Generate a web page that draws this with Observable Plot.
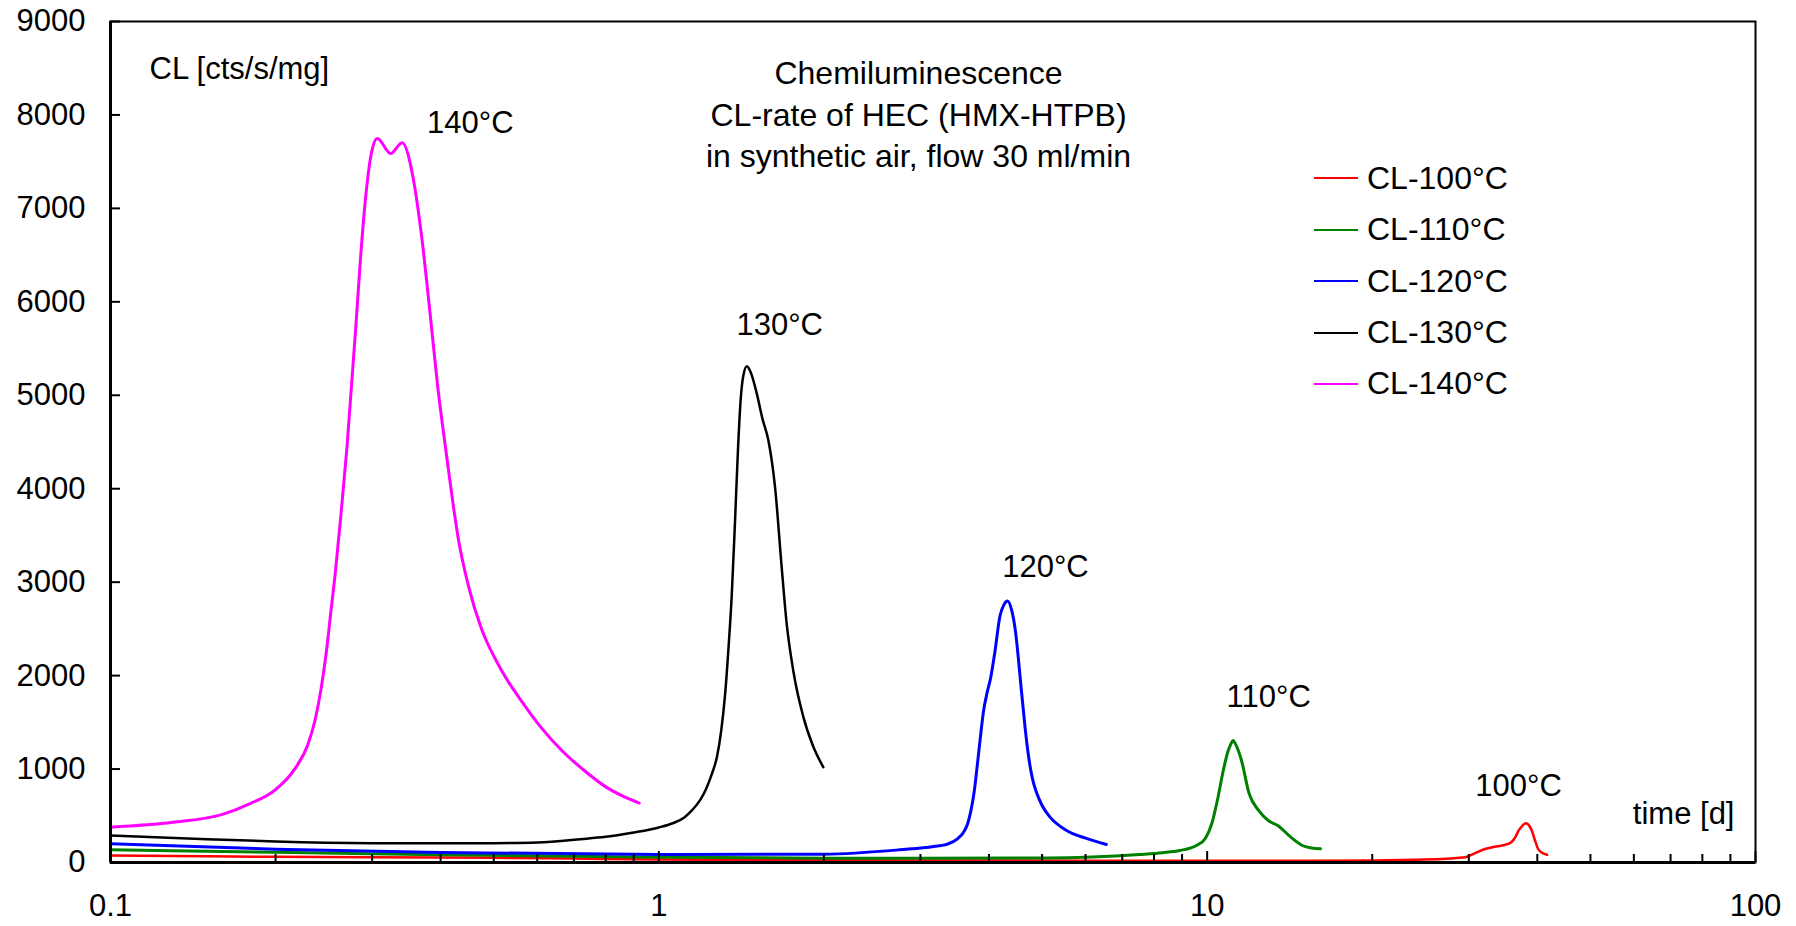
<!DOCTYPE html>
<html><head><meta charset="utf-8">
<script src="https://cdn.jsdelivr.net/npm/d3@7"></script>
<script src="https://cdn.jsdelivr.net/npm/@observablehq/plot@0.6"></script>
<style>
html,body{margin:0;padding:0;background:#fff;}
#wrap{position:relative;width:1796px;height:926px;font-family:"Liberation Sans",Arial,sans-serif;}
#legend{position:absolute;left:1314px;top:0;}
.row{position:absolute;left:0;height:40px;display:flex;align-items:center;white-space:nowrap;font-size:32px;color:#000;}
.sw{width:44px;height:2px;margin-right:9px;}
</style></head><body><div id="wrap"></div>
<script>
// ---- data ----
const series = ["CL-100°C", "CL-110°C", "CL-120°C", "CL-130°C", "CL-140°C"];
const colors = ["#ff0000", "#008000", "#0000ff", "#000000", "#ff00ff"];

const t100 = [0.1, 0.15, 0.2, 0.3, 0.5, 0.7, 1, 1.5, 2, 3.5, 6, 10, 15, 20, 24, 27.3, 28.5, 29.6, 30.6, 32.1, 33.4, 34.7, 35.9, 36.5, 37.0, 37.6, 38.1, 38.6, 39.1, 39.6, 40.1, 40.8, 41.7];
const v100 = [75, 66, 61, 57, 50, 42, 32, 28, 25, 22, 20, 18, 18, 22, 30, 40, 48, 57, 93, 145, 168, 185, 220, 275, 343, 395, 421, 400, 340, 240, 150, 105, 82];

const t110 = [0.1, 0.2, 0.4, 1, 2, 3, 5.1, 7.53, 8.3, 8.91, 9.56, 9.93, 10.2, 10.45, 10.67, 10.9, 11.05, 11.15, 11.3, 11.55, 11.93, 12.41, 12.92, 13.45, 14.21, 14.91, 15.5, 16.1];
const v110 = [136, 110, 82, 57, 46, 45, 48, 86, 105, 128, 182, 260, 420, 680, 950, 1180, 1270, 1306, 1250, 1092, 735, 557, 450, 396, 271, 182, 155, 147];

const t120 = [0.1, 0.2, 0.4, 1, 2, 2.75, 3.17, 3.37, 3.50, 3.60, 3.66, 3.71, 3.76, 3.81, 3.86, 3.91, 3.97, 4.03, 4.10, 4.19, 4.26, 4.325, 4.40, 4.46, 4.59, 4.66, 4.72, 4.80, 4.89, 5.0, 5.17, 5.54, 6.0, 6.55];
const v120 = [200, 143, 107, 86, 89, 136, 171, 200, 250, 330, 420, 560, 760, 1050, 1350, 1620, 1820, 1980, 2250, 2640, 2760, 2798, 2700, 2519, 1806, 1420, 1150, 900, 740, 610, 485, 343, 260, 193];

const t130 = [0.1, 0.15, 0.2, 0.3, 0.4, 0.5, 0.6, 0.72, 0.8, 0.9, 1.0, 1.06, 1.113, 1.15, 1.19, 1.22, 1.25, 1.276, 1.30, 1.32, 1.34, 1.358, 1.377, 1.395, 1.41, 1.425, 1.447, 1.47, 1.509, 1.545, 1.584, 1.629, 1.675, 1.711, 1.759, 1.835, 1.91, 1.995];
const v130 = [289, 250, 225, 207, 205, 207, 215, 250, 275, 321, 375, 420, 482, 560, 670, 790, 950, 1127, 1420, 1780, 2300, 2850, 3650, 4450, 4950, 5200, 5310, 5250, 5018, 4750, 4518, 4018, 3162, 2550, 2050, 1556, 1250, 1020];

const t140 = [0.1, 0.13, 0.1606, 0.1797, 0.2, 0.2167, 0.229, 0.236, 0.242, 0.2475, 0.2525, 0.257, 0.263, 0.270, 0.2807, 0.285, 0.292, 0.299, 0.3066, 0.3243, 0.3402, 0.357, 0.3688, 0.3838, 0.395, 0.407, 0.42, 0.431, 0.45, 0.475, 0.503, 0.532, 0.563, 0.607, 0.666, 0.732, 0.803, 0.86, 0.921];
const v140 = [378, 430, 518, 630, 780, 1000, 1260, 1520, 1850, 2250, 2700, 3100, 3700, 4450, 5803, 6374, 7123, 7587, 7748, 7587, 7702, 7302, 6731, 5803, 5100, 4500, 3900, 3460, 2950, 2500, 2180, 1930, 1720, 1460, 1196, 982, 804, 710, 636];

const peakLabels = ["140°C", "130°C", "120°C", "110°C", "100°C"];
const peakLabelT = [0.453, 1.661, 5.07, 12.95, 36.98];
const peakLabelV = [7812, 5640, 3050, 1669, 717];

const titleLines = ["Chemiluminescence", "CL-rate of HEC (HMX-HTPB)", "in synthetic air, flow 30 ml/min"];
const yAxisTitle = "CL [cts/s/mg]";
const xAxisTitle = "time [d]";

const yTicks = [0, 1000, 2000, 3000, 4000, 5000, 6000, 7000, 8000, 9000];
const xMajor = [0.1, 1, 10, 100];
const xMinor = [0.2, 0.3, 0.4, 0.5, 0.6, 0.7, 0.8, 0.9, 2, 3, 4, 5, 6, 7, 8, 9, 20, 30, 40, 50, 60, 70, 80, 90];

// ---- build ----
const ts = [t100, t110, t120, t130, t140];
const vs = [v100, v110, v120, v130, v140];
const widths = [2.5, 3, 3, 2.5, 3];
const tables = series.map((s, i) => ts[i].map((t, j) => ({series: s, t, v: vs[i][j]})));

const font = '"Liberation Sans", Arial, sans-serif';

const chart = Plot.plot({
  width: 1796, height: 926,
  marginLeft: 110, marginRight: 41, marginTop: 21, marginBottom: 64,
  x: {type: "log", domain: [0.1, 100], label: null},
  y: {domain: [0, 9000], label: null},
  style: {fontFamily: font, fontSize: "31px", color: "#000", background: "#fff", overflow: "visible"},
  marks: [
    Plot.frame({stroke: "#000", strokeWidth: 2}),
    ...tables.map((d, i) => Plot.line(d, {x: "t", y: "v", stroke: colors[i], strokeWidth: widths[i], curve: "monotone-x"})),
    Plot.ruleX([0.1], {stroke: "#000", strokeWidth: 3}),
    Plot.ruleY([0], {stroke: "#000", strokeWidth: 3}),
    Plot.axisY({ticks: yTicks, tickSize: 0, tickPadding: 25, tickFormat: d => String(d), fontSize: 31, label: null}),
    Plot.axisY({ticks: yTicks, tickSize: -10, strokeWidth: 2, tickFormat: () => "", label: null}),
    Plot.axisX({ticks: xMajor, tickSize: 0, tickPadding: 31, tickFormat: d => String(d), fontSize: 31, label: null}),
    Plot.axisX({ticks: xMajor, tickSize: -11, strokeWidth: 2, tickFormat: () => "", label: null}),
    Plot.axisX({ticks: xMinor, tickSize: -8, strokeWidth: 2, tickFormat: () => "", label: null}),
    Plot.text(peakLabels, {x: (d, i) => peakLabelT[i], y: (d, i) => peakLabelV[i], text: d => d, textAnchor: "middle", lineAnchor: "bottom", fontSize: 31, fill: "#000"}),
    Plot.text([titleLines.join("\n")], {frameAnchor: "top", dx: -14.5, dy: 33.3, textAnchor: "middle", lineAnchor: "top", lineHeight: 1.297, fontSize: 32, fill: "#000"}),
    Plot.text([yAxisTitle], {frameAnchor: "top-left", dx: 39, dy: 35, textAnchor: "start", lineAnchor: "top", fontSize: 31, fill: "#000"}),
    Plot.text([xAxisTitle], {frameAnchor: "bottom-right", dx: -21, dy: -39, textAnchor: "end", lineAnchor: "bottom", fontSize: 31, fill: "#000"})
  ]
});

const wrap = document.getElementById("wrap");
wrap.appendChild(chart);

// legend (inside plot area, upper right)
const legend = document.createElement("div");
legend.id = "legend";
const rowCenters = [178.3, 229.7, 281.1, 332.5, 383.9];
series.forEach((s, i) => {
  const row = document.createElement("div");
  row.className = "row";
  row.style.top = (rowCenters[i] - 20) + "px";
  const sw = document.createElement("div");
  sw.className = "sw";
  sw.style.background = colors[i];
  const lab = document.createElement("span");
  lab.textContent = s;
  row.appendChild(sw);
  row.appendChild(lab);
  legend.appendChild(row);
});
wrap.appendChild(legend);
</script></body></html>
